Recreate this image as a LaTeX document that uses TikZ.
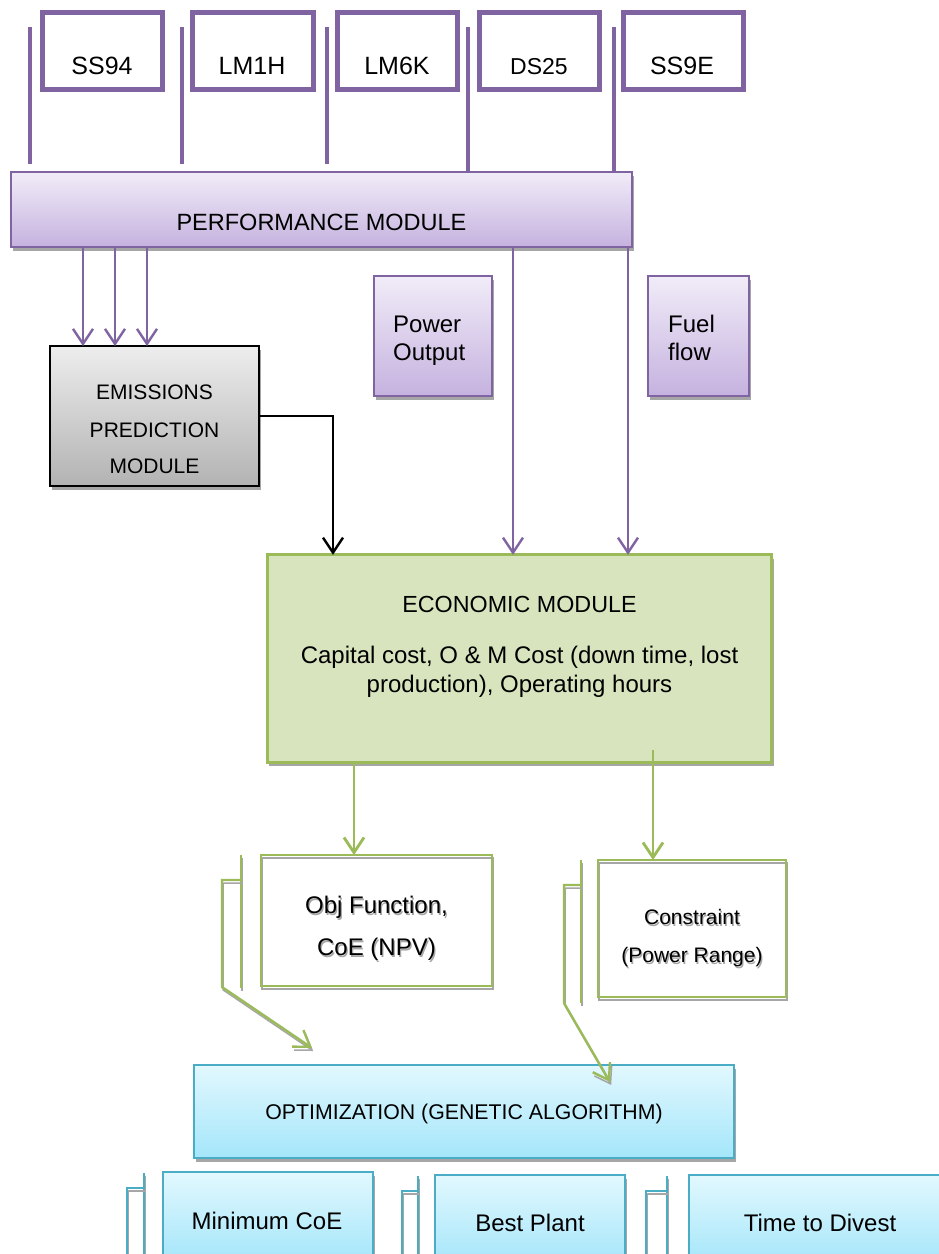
\documentclass[tikz,border=0pt]{standalone}
\usepackage{fontspec}
\setmainfont{Liberation Sans}
\usetikzlibrary{arrows.meta,shadows}
\definecolor{purp}{HTML}{8064A2}
\definecolor{purtop}{HTML}{F1ECF8}
\definecolor{purbot}{HTML}{C5B2DF}
\definecolor{grn}{HTML}{9BBB59}
\definecolor{econfill}{HTML}{D7E4BD}
\definecolor{blu}{HTML}{4BACC6}
\definecolor{blutop}{HTML}{E2F8FE}
\definecolor{blubot}{HTML}{A4E6FA}
\definecolor{shad}{HTML}{A6A6A6}
\newcommand{\fsz}[1]{\fontsize{#1}{#1}\selectfont}
\newcommand{\shd}[1]{\makebox[0pt][l]{\hspace{1.2pt}\raisebox{-2.2pt}{\color{black!35}#1}}#1}
\begin{document}
\begin{tikzpicture}[x=1pt,y=-1pt,
  box/.style={rectangle, inner sep=0pt, outer sep=0pt, anchor=center},
  topbox/.style={box, draw=purp, line width=5pt, fill=white, minimum width=120pt, minimum height=77pt},
  pshadow/.style={general shadow={fill=shad, shadow xshift=2pt, shadow yshift=-4pt}},
  lshadow/.style={general shadow={draw=shad, line width=1.5pt, shadow xshift=1.2pt, shadow yshift=-3pt}},
  pbox/.style={box, draw=purp, line width=1.8pt, top color=purtop, bottom color=purbot, pshadow},
  ebox/.style={box, draw=black, line width=2.2pt, top color=black!7, bottom color=black!30, pshadow},
  econbox/.style={box, draw=grn, line width=2.6pt, fill=econfill, pshadow},
  gbox/.style={box, draw=grn, line width=2.2pt, lshadow},
  bbox/.style={box, draw=blu, line width=2.2pt, top color=blutop, bottom color=blubot, pshadow},
  txt/.style={anchor=base, inner sep=0pt},
  txtl/.style={anchor=base west, inner sep=0pt},
  tipA/.style={-{Straight Barb[length=15pt,width=20pt]}},
  parrow/.style={draw=purp, line width=2.4pt, tipA},
  garrow/.style={draw=grn, line width=2.8pt, tipA},
  karrow/.style={draw=black, line width=2.4pt, tipA},
  pline/.style={draw=purp, line width=3.5pt},
  gline/.style={draw=grn, line width=2.4pt, lshadow},
  bline/.style={draw=blu, line width=2.2pt, lshadow}
]
\path[use as bounding box] (0,0) rectangle (939,1254);
\clip (0,0) rectangle (939,1254);

% ---- top boxes
\node[topbox] (ss94) at (102,51) {};
\node[topbox, minimum width=121pt] (lm1h) at (253,51) {};
\node[topbox] (lm6k) at (397.5,51) {};
\node[topbox] (ds25) at (539.5,51) {};
\node[topbox] (ss9e) at (683.5,51) {};
\node[txt, font=\fsz{25}] (ss94t) at (102,74) {SS94};
\node[txt, font=\fsz{25}] (lm1ht) at (252,74) {LM1H};
\node[txt, font=\fsz{25}] (lm6kt) at (397,74) {LM6K};
\node[txt, font=\fsz{23}] (ds25t) at (539,74) {DS25};
\node[txt, font=\fsz{25}] (ss9et) at (682,74) {SS9E};

% ---- performance module
\node[pbox, minimum width=621pt, minimum height=75pt] (perf) at (321.5,209.5) {};
\node[txt, font=\fsz{23.5}] (perft) at (321.5,230) {PERFORMANCE MODULE};

% vertical lines from the engines
\coordinate (v1) at (30,27);  \coordinate (w1) at (30,164);
\coordinate (v2) at (182,27); \coordinate (w2) at (182,164);
\coordinate (v3) at (327,27); \coordinate (w3) at (327,164);
\coordinate (v4) at (468,27);
\coordinate (v5) at (614,27);
\draw[pline] (v1) -- (w1);
\draw[pline] (v2) -- (w2);
\draw[pline] (v3) -- (w3);
\draw[pline] (v4) -- (perf.north -| v4);
\draw[pline] (v5) -- (perf.north -| v5);

% ---- emissions
\node[ebox, minimum width=209pt, minimum height=140pt] (emis) at (154.5,416) {};
\node[txt, font=\fsz{21}] (emis1) at (154.5,399) {EMISSIONS};
\node[txt, font=\fsz{21}] (emis2) at (154.5,437) {PREDICTION};
\node[txt, font=\fsz{21}] (emis3) at (154.5,473) {MODULE};

% ---- power output / fuel flow
\node[pbox, minimum width=118pt, minimum height=120pt] (pow) at (433,336) {};
\node[txtl, font=\fsz{24}] (pow1) at (393,332) {Power};
\node[txtl, font=\fsz{24}] (pow2) at (393,360) {Output};
\node[pbox, minimum width=101pt, minimum height=120pt] (fuel) at (698.5,336) {};
\node[txtl, font=\fsz{24}] (fuel1) at (668,332) {Fuel};
\node[txtl, font=\fsz{24}] (fuel2) at (668,360) {flow};

% ---- economic module
\node[econbox, minimum width=504.5pt, minimum height=207.5pt] (econ) at (519.5,658.5) {};
\node[txt, font=\fsz{23.3}] (econ1) at (519.5,612) {ECONOMIC MODULE};
\node[txt, font=\fsz{24}] (econ2) at (519.5,663) {Capital cost, O \& M Cost (down time, lost};
\node[txt, font=\fsz{24}] (econ3) at (519.5,692) {production), Operating hours};

% ---- objective / constraint
\node[gbox, minimum width=231pt, minimum height=131pt] (obj) at (376.5,920.5) {};
\node[txt, font=\fsz{24}] (obj1) at (376.5,913) {\shd{Obj Function,}};
\node[txt, font=\fsz{24}] (obj2) at (376.5,955) {\shd{CoE (NPV)}};
\node[gbox, minimum width=188pt, minimum height=137pt] (cons) at (692,928.5) {};
\node[txt, font=\fsz{21}] (cons1) at (692,924) {\shd{Constraint}};
\node[txt, font=\fsz{21}] (cons2) at (692,962) {\shd{(Power Range)}};

% ---- optimization
\node[bbox, minimum width=540pt, minimum height=93pt] (opt) at (464,1111.5) {};
\node[txt, font=\fsz{21.3}] (optt) at (464,1119) {OPTIMIZATION (GENETIC ALGORITHM)};

% ---- results
\node[bbox, minimum width=210pt, minimum height=90pt] (minc) at (268,1217) {};
\node[txt, font=\fsz{24}] (minct) at (267,1229) {Minimum CoE};
\node[bbox, minimum width=190pt, minimum height=90pt] (best) at (530,1220) {};
\node[txt, font=\fsz{24}] (bestt) at (530,1231) {Best Plant};
\node[bbox, minimum width=260pt, minimum height=90pt] (div) at (819,1220) {};
\node[txt, font=\fsz{24}] (divt) at (820,1231) {Time to Divest};

% ---- connectors
\coordinate (xa) at (83,0);
\coordinate (xb) at (115,0);
\coordinate (xc) at (147,0);
\coordinate (xd) at (513,0);
\coordinate (xe) at (628,0);
\coordinate (xk) at (333,0);
\coordinate (xg) at (354,0);
\coordinate (g2) at (653,750);
\draw[parrow] (perf.south -| xa) -- (emis.north -| xa);
\draw[parrow] (perf.south -| xb) -- (emis.north -| xb);
\draw[parrow] (perf.south -| xc) -- (emis.north -| xc);
\draw[parrow] (perf.south -| xd) -- (econ.north -| xd);
\draw[parrow] (perf.south -| xe) -- (econ.north -| xe);
\draw[karrow] (emis.east) -| (econ.north -| xk);
\draw[garrow] (econ.south -| xg) -- (obj.north -| xg);
\draw[garrow] (g2) -- (cons.north -| g2);

% bent arrows to the optimization
\coordinate (oa) at (241,855); \coordinate (ob) at (241,988);
\coordinate (oc) at (241,880); \coordinate (od) at (222,880); \coordinate (oe) at (222,987);
\coordinate (t1) at (312,1048);
\draw[gline] (oa) -- (ob);
\draw[gline, tipA] (oc) -- (od) -- (oe) -- (t1);
\coordinate (ca) at (581,860); \coordinate (cb) at (581,1003);
\coordinate (cc) at (581,885); \coordinate (cd) at (564,885); \coordinate (ce) at (564,1003);
\coordinate (t2) at (610,1082);
\draw[gline] (ca) -- (cb);
\draw[gline, tipA] (cc) -- (cd) -- (ce) -- (t2);

% bent pieces beside the results
\coordinate (ma) at (144,1173); \coordinate (mb) at (144,1262);
\coordinate (mc) at (144,1188); \coordinate (md) at (127,1188); \coordinate (me) at (127,1262);
\draw[bline] (ma) -- (mb);
\draw[bline] (mc) -- (md) -- (me);
\coordinate (ba) at (418,1176); \coordinate (bb) at (418,1262);
\coordinate (bc) at (418,1191); \coordinate (bd) at (402,1191); \coordinate (be) at (402,1262);
\draw[bline] (ba) -- (bb);
\draw[bline] (bc) -- (bd) -- (be);
\coordinate (da) at (667,1176); \coordinate (db) at (667,1262);
\coordinate (dc) at (667,1191); \coordinate (dd) at (646,1191); \coordinate (de) at (646,1262);
\draw[bline] (da) -- (db);
\draw[bline] (dc) -- (dd) -- (de);
\end{tikzpicture}
\end{document}
